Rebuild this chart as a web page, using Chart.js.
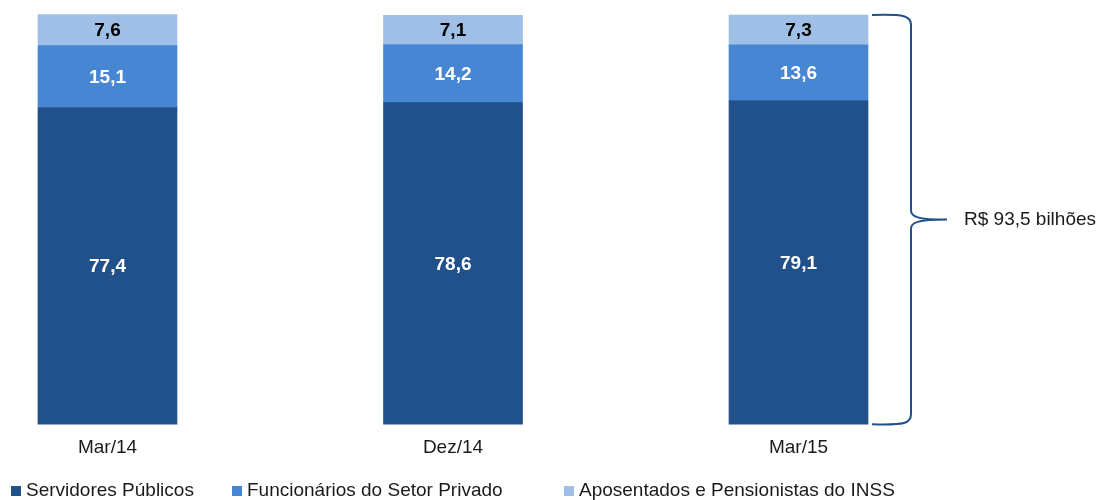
<!DOCTYPE html>
<html>
<head>
<meta charset="utf-8">
<script src="https://cdn.jsdelivr.net/npm/chart.js@4/dist/chart.umd.min.js"></script>
<style>
  html, body { margin: 0; padding: 0; background: #ffffff; }
  #wrap { width: 1100px; height: 500px; position: relative; }
</style>
</head>
<body>
<div id="wrap"><canvas id="c" width="1100" height="500"></canvas></div>
<script>
// ---- Data ----
const categories = ["Mar/14", "Dez/14", "Mar/15"];
const servidoresPublicos = [77.4, 78.6, 79.1];
const funcionariosPrivado = [15.1, 14.2, 13.6];
const aposentadosINSS = [7.6, 7.1, 7.3];
const seriesNames = ["Servidores Públicos", "Funcionários do Setor Privado", "Aposentados e Pensionistas do INSS"];
const braceLabel = "R$ 93,5 bilhões";

// ---- Styles ----
const FONT = '"Liberation Sans", Arial, sans-serif';
const colors = ["#21518A", "#4686D3", "#A0BFE6"];
const labelColors = ["#ffffff", "#ffffff", "#000000"];
const legendX = [11, 232, 564];

const fmt = v => v.toFixed(1).replace('.', ',');

const valueLabels = {
  id: 'valueLabels',
  afterDatasetsDraw(chart) {
    const ctx = chart.ctx;
    ctx.save();
    ctx.font = 'bold 19px ' + FONT;
    ctx.textAlign = 'center';
    ctx.textBaseline = 'middle';
    chart.data.datasets.forEach((ds, i) => {
      const meta = chart.getDatasetMeta(i);
      meta.data.forEach((el, j) => {
        ctx.fillStyle = labelColors[i];
        ctx.fillText(fmt(ds.data[j]), el.x, (el.y + el.base) / 2 + 1);
      });
    });
    ctx.restore();
  }
};

const braceAndLegend = {
  id: 'braceAndLegend',
  afterDraw(chart) {
    const ctx = chart.ctx;
    const area = chart.chartArea;
    // brace next to last bar
    const meta = chart.getDatasetMeta(0);
    const el = meta.data[meta.data.length - 1];
    const left = el.x + el.width / 2 + 4;
    const xv = left + 39;
    const tipX = xv + 36;
    const top = area.top, bot = area.bottom;
    const mid = (top + bot) / 2;
    ctx.save();
    ctx.strokeStyle = colors[0];
    ctx.lineWidth = 2;
    ctx.beginPath();
    ctx.moveTo(left, top);
    ctx.bezierCurveTo(xv - 6, top - 1, xv, top + 1, xv, top + 10);
    ctx.lineTo(xv, mid - 9);
    ctx.bezierCurveTo(xv, mid - 3, xv + 6, mid, tipX, mid);
    ctx.bezierCurveTo(xv + 6, mid, xv, mid + 3, xv, mid + 9);
    ctx.lineTo(xv, bot - 10);
    ctx.bezierCurveTo(xv, bot - 1, xv - 6, bot + 1, left, bot);
    ctx.stroke();
    ctx.fillStyle = '#1a1a1a';
    ctx.font = '19px ' + FONT;
    ctx.textAlign = 'left';
    ctx.textBaseline = 'middle';
    ctx.fillText(braceLabel, tipX + 17, mid);

    // legend
    const ly = 491;
    chart.data.datasets.forEach((ds, i) => {
      ctx.fillStyle = ds.backgroundColor;
      ctx.fillRect(legendX[i], ly - 5, 10, 10);
      ctx.fillStyle = '#1a1a1a';
      ctx.fillText(ds.label, legendX[i] + 15, ly);
    });
    ctx.restore();
  }
};

new Chart(document.getElementById('c'), {
  type: 'bar',
  data: {
    labels: categories,
    datasets: [
      { label: seriesNames[0], data: servidoresPublicos, backgroundColor: colors[0] },
      { label: seriesNames[1], data: funcionariosPrivado, backgroundColor: colors[1] },
      { label: seriesNames[2], data: aposentadosINSS, backgroundColor: colors[2] }
    ]
  },
  options: {
    responsive: false,
    animation: false,
    devicePixelRatio: 1,
    layout: { padding: { left: 107.5, right: 301.5, top: 15, bottom: 29 } },
    datasets: { bar: { barThickness: 139, clip: false, borderWidth: 0 } },
    plugins: { legend: { display: false }, tooltip: { enabled: false } },
    scales: {
      x: {
        stacked: true,
        offset: false,
        grid: { display: false, drawTicks: false },
        border: { display: false },
        ticks: { color: '#1a1a1a', font: { family: FONT, size: 19 }, padding: 12, maxRotation: 0 }
      },
      y: {
        stacked: true,
        display: false,
        min: 0,
        max: 100
      }
    }
  },
  plugins: [valueLabels, braceAndLegend]
});
</script>
</body>
</html>
